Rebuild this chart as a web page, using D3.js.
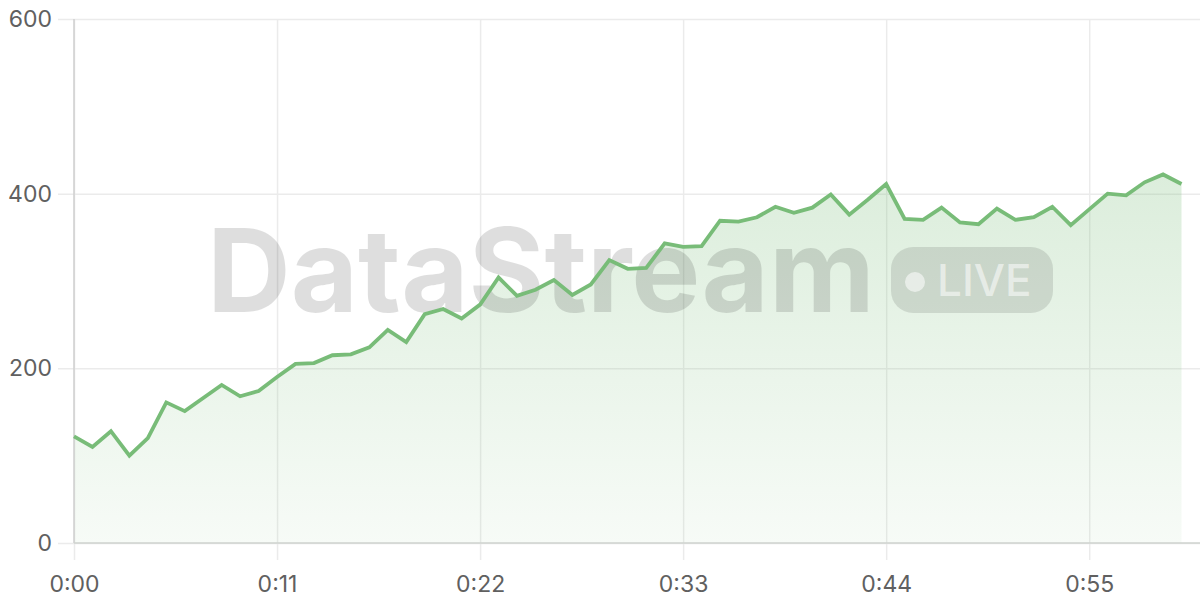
<!DOCTYPE html>
<html lang="en">
<head>
    <meta charset="UTF-8">
    <title>DataStream Live</title>
    <script src="https://cdn.jsdelivr.net/npm/d3@7"></script>
    <style>
        html, body {
            margin: 0;
            padding: 0;
            background: #fff;
        }

        svg {
            display: block;
            font-family: Inter, "Noto Sans", sans-serif;
        }

        .tick text {
            fill: #606060;
            font-size: 23px;
            font-family: Inter, "Noto Sans", sans-serif;
        }
    </style>
</head>
<body>
<div id="chart"></div>
<script>
// seconds since start, one reading per second
let seconds = d3.range(0, 61)
let values = [
    122, 110, 128, 100, 120, 161, 151, 166, 181, 168,
    174, 190, 205, 206, 215, 216, 224, 244, 230, 262,
    268, 257, 273, 304, 283, 290, 301, 284, 296, 324,
    314, 315, 343, 339, 340, 369, 368, 373, 385, 378,
    384, 399, 376, 393, 411, 371, 370, 384, 367, 365,
    383, 370, 373, 385, 364, 382, 400, 398, 413, 422,
    411
]
let xTicks = [0, 11, 22, 33, 44, 55]
let yTicks = [0, 200, 400, 600]

let width = 1200
let height = 600
let plotLeft = 74, plotTop = 19, plotBottom = 543, plotRight = 1181.5

let svg = d3.select('#chart').append('svg')
    .attr('width', width)
    .attr('height', height)

let x = d3.scaleLinear().domain([0, 60]).range([plotLeft, plotRight])
let y = d3.scaleLinear().domain([0, 600]).range([plotBottom, plotTop])

let fmt = s => Math.floor(s / 60) + ':' + String(s % 60).padStart(2, '0')

// gradient under the line
let grad = svg.append('defs').append('linearGradient')
    .attr('id', 'fillGrad')
    .attr('gradientUnits', 'userSpaceOnUse')
    .attr('x1', 0).attr('x2', 0)
    .attr('y1', y(420)).attr('y2', plotBottom)
grad.append('stop').attr('offset', '0%').attr('stop-color', '#78bc78').attr('stop-opacity', 0.26)
grad.append('stop').attr('offset', '100%').attr('stop-color', '#78bc78').attr('stop-opacity', 0.06)

// horizontal grid + y labels
let yAxis = svg.append('g')
    .attr('transform', `translate(${plotLeft},0)`)
    .call(d3.axisLeft(y).tickValues(yTicks).tickSize(16).tickPadding(6))
yAxis.select('.domain').remove()
yAxis.selectAll('.tick line').attr('stroke', '#ebebeb').attr('stroke-width', 1.5)
    .attr('x2', width - plotLeft).attr('x1', -16)

// vertical grid + x labels
let xAxis = svg.append('g')
    .attr('transform', `translate(0,${plotBottom})`)
    .call(d3.axisBottom(x).tickValues(xTicks).tickFormat(fmt).tickSize(17).tickPadding(9))
xAxis.select('.domain').remove()
xAxis.selectAll('.tick line').attr('stroke', '#ebebeb').attr('stroke-width', 1.5)
    .attr('y1', plotTop - plotBottom)
xAxis.selectAll('.tick text').attr('dy', '1.0em')

// area
let area = d3.area()
    .x((d, i) => x(seconds[i]))
    .y0(y(0))
    .y1(d => y(d))
svg.append('path')
    .datum(values)
    .attr('d', area)
    .attr('fill', 'url(#fillGrad)')

// watermark
let wm = svg.append('g').attr('pointer-events', 'none')
wm.append('text')
    .attr('x', 207)
    .attr('y', 312)
    .attr('font-size', 116)
    .attr('font-weight', 700)
    .attr('fill', 'rgba(0,0,0,0.13)')
    .text('DataStream')
wm.append('rect')
    .attr('x', 891).attr('y', 247)
    .attr('width', 162).attr('height', 66)
    .attr('rx', 22)
    .attr('fill', 'rgba(0,0,0,0.11)')
wm.append('circle')
    .attr('cx', 915).attr('cy', 282).attr('r', 10)
    .attr('fill', 'rgba(255,255,255,0.55)')
wm.append('text')
    .attr('x', 937)
    .attr('y', 296)
    .attr('font-size', 44)
    .attr('font-weight', 500)
    .attr('fill', 'rgba(255,255,255,0.55)')
    .text('LIVE')

// axis lines
svg.append('line')
    .attr('x1', plotLeft).attr('x2', plotLeft)
    .attr('y1', plotTop).attr('y2', plotBottom)
    .attr('stroke', '#cfcfcf').attr('stroke-width', 1.5)
svg.append('line')
    .attr('x1', plotLeft).attr('x2', width)
    .attr('y1', plotBottom).attr('y2', plotBottom)
    .attr('stroke', '#cfd3cf').attr('stroke-width', 1.5)

// line
let line = d3.line()
    .x((d, i) => x(seconds[i]))
    .y(d => y(d))
svg.append('path')
    .datum(values)
    .attr('d', line)
    .attr('fill', 'none')
    .attr('stroke', '#78bc78')
    .attr('stroke-width', 3.8)
    .attr('stroke-linejoin', 'miter')
</script>
</body>
</html>
